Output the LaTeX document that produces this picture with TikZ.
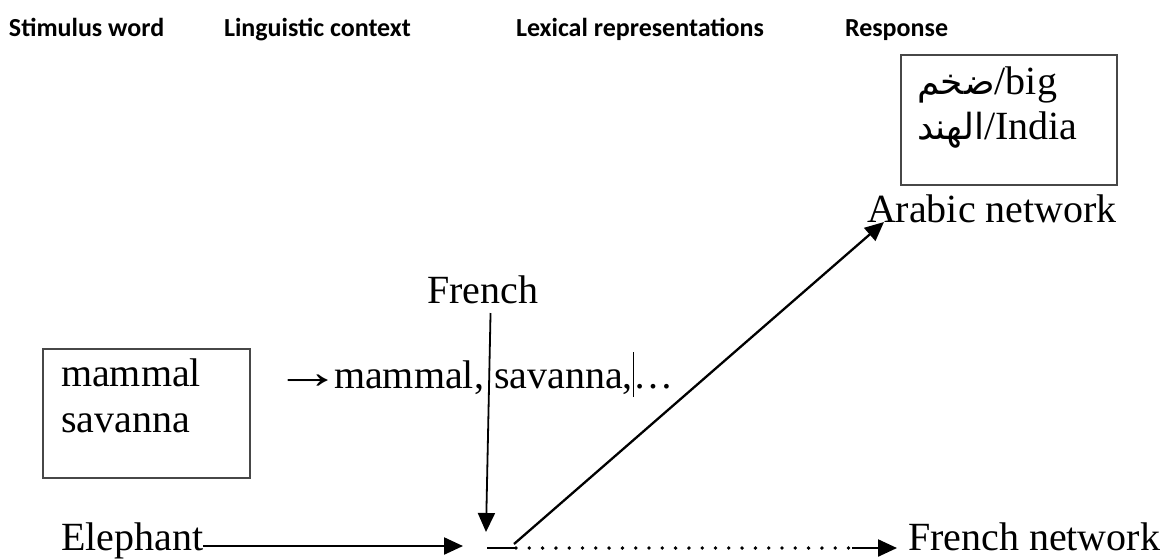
\documentclass[tikz,border=0pt]{standalone}
\usepackage{fontspec}
\usepackage{graphicx}
\setmainfont{Liberation Serif}
\newfontfamily\headfont{Carlito}
\newfontfamily\arabicfont[Script=Arabic]{DejaVu Sans}
\TeXXeTstate=1
\usetikzlibrary{arrows.meta,calc}

\begin{document}
\begin{tikzpicture}[x=1pt,y=-1pt,
  every node/.style={inner sep=0pt, outer sep=0pt},
  head/.style={anchor=base west, font=\headfont\bfseries\fontsize{26}{30}\selectfont},
  word/.style={anchor=base west, font=\fontsize{40}{48}\selectfont},
  frame/.style={draw=black!72, line width=2pt, anchor=north west},
  link/.style={line width=2.3pt, -{Triangle[length=19pt,width=17pt]}},
  dots/.style={line width=3.8pt, line cap=round, dash pattern=on 0pt off 13.3pt},
]
\newcommand\arabword[1]{{\arabicfont\fontsize{36}{40}\selectfont\beginR #1\endR}}
\useasboundingbox (0,0) rectangle (1172,558);

% column headings
\node[head] (h1) at (9,36)   {Stimulus word};
\node[head] (h2) at (224,36) {Linguistic context};
\node[head] (h3) at (516,36) {Lexical representations};
\node[head] (h4) at (845,36) {Response};

% response box
\node[frame, minimum width=216pt, minimum height=130pt] (resp) at (901,55) {};
\node[word] (big)   at (917,94)    {\arabword{ضخم}/big};
\node[word] (india) at (917,139.5) {\arabword{الهند}/India};
\node[word] (arabicnet) at (867,222) {Arabic network};

% context
\node[word] (french) at (427,303) {French};
\node[frame, minimum width=207pt, minimum height=129pt] (ctx) at (43,349) {};
\node[word] (mammal)  at (61,386) {mammal};
\node[word] (savanna) at (61,432) {savanna};
\node[word] (arr) at (274,388) {\scalebox{1.68}[1.2]{→}};
\node[word] (ctxline) at (334,388) {mammal, savanna,\rule[-9pt]{0.8pt}{45pt}\ldots};

% stimulus and outputs
\node[word] (elephant)  at (61,550)  {Elephant};
\node[word] (frenchnet) at (908,550) {French network};

\coordinate (hubW) at (463,546);
\coordinate (hubN) at (486,532);
\coordinate (hubE) at (487,548);
\coordinate (dotS) at (516,548);
\coordinate (dotE) at (852,548);

\draw[link] (elephant.east |- hubW) -- (hubW);
\draw[link, line width=1.8pt] ($(french.base)+(8,10)$) -- (hubN);
\draw[line width=2.3pt] (hubE) -- (dotS);
\draw[dots] (dotS) -- (dotE);
\draw[link, shorten >=11pt] (dotE) -- (frenchnet.west |- dotE);
\draw[link] ($(dotS)+(-2,-4)$) -- ($(arabicnet.base west)+(17,0)$);
\end{tikzpicture}
\end{document}
